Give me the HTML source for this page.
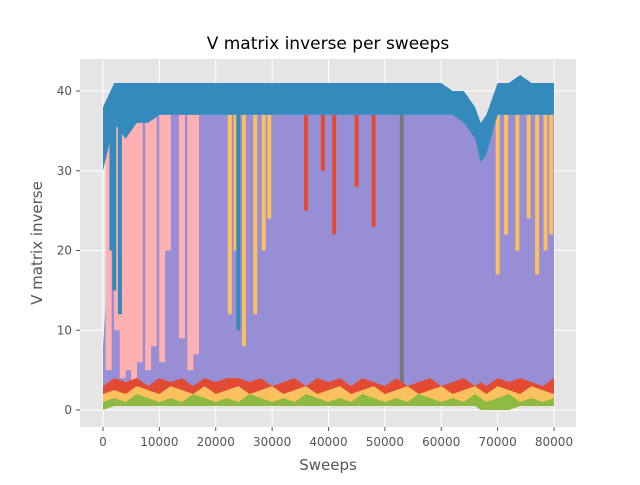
<!DOCTYPE html>
<html><head><meta charset="utf-8"><style>
body{margin:0;background:#fff;font-family:"Liberation Sans","DejaVu Sans",sans-serif;}
svg text{font-family:"DejaVu Sans","Liberation Sans",sans-serif;}
</style></head><body>
<svg id="chart" width="640" height="480">
<rect x="0" y="0" width="640" height="480" fill="#fff"/>
<rect x="80" y="59" width="496" height="368" fill="#e5e5e5"/>
<g id="grid"></g>
<g id="marks"></g>
<g id="ticks"></g>
<text x="328" y="49" font-size="17" text-anchor="middle" fill="#000">V matrix inverse per sweeps</text>
<text x="328" y="470" font-size="15" text-anchor="middle" fill="#555">Sweeps</text>
<text x="42" y="243" font-size="15" text-anchor="middle" fill="#555" transform="rotate(-90 42 243)">V matrix inverse</text>
</svg>
<script>
const xTicks=[0,10000,20000,30000,40000,50000,60000,70000,80000];
const yTicks=[0,10,20,30,40];
const sweeps=[0,2000,4000,6000,8000,10000,12000,14000,16000,18000,20000,22000,24000,26000,28000,30000,32000,34000,36000,38000,40000,42000,44000,46000,48000,50000,52000,54000,56000,58000,60000,62000,64000,66000,67000,68000,70000,72000,74000,76000,78000,80000];
const blueHigh=[38,41,41,41,41,41,41,41,41,41,41,41,41,41,41,41,41,41,41,41,41,41,41,41,41,41,41,41,41,41,41,40,40,38,36,37,41,41,42,41,41,41];
const blueLow=[30,36,34,36,36,37,37,37,37,37,37,37,37,37,37,37,37,37,37,37,37,37,37,37,37,37,37,37,37,37,37,37,36,34,31,32,37,37,37,37,37,37];
const purpleHigh=[8,30,34,36,36,37,37,37,37,37,37,37,37,37,37,37,37,37,37,37,37,37,37,37,37,37,37,37,37,37,37,37,36,34,31,32,37,37,37,37,37,37];
const purpleLow=[3,3,3,3,3,3,3,3,3,3,3,3,3,3,3,3,3,3,3,3,3,3,3,3,3,3,3,3,3,3,3,3,3,3,3,3,3,3,3,3,3,3];
const redHigh=[3,4,3.5,4,3,4,3.5,4,3,4,3.5,4,4,3.5,4,3,3.5,4,3,4,3.5,4,3,4,3.5,3,4,3,3.5,4,3,3.5,4,3,3.5,3,4,3.5,4,3.5,3,4];
const yellowHigh=[2,2.5,2,3,2.5,2,3,2.5,2,3,2,2.5,3,2,2.5,3,2,2.5,3,2,2.5,3,2,2.5,3,2,2.5,3,2,2.5,3,2,2.5,3,2.5,2,3,2.5,2,3,2.5,2];
const greenHigh=[1,1.5,1,2,1.5,1,1.5,1,2,1.5,1,1.5,1,2,1.5,1,1.5,1,2,1.5,1,1.5,1,2,1.5,1,1.5,1,2,1.5,1,1.5,1,2,1.5,1,1.5,2,1,1.5,1,1.5];
const greenLow=[0,0.5,0.5,0.5,0.5,0.5,0.5,0.5,0.5,0.5,0.5,0.5,0.5,0.5,0.5,0.5,0.5,0.5,0.5,0.5,0.5,0.5,0.5,0.5,0.5,0.5,0.5,0.5,0.5,0.5,0.5,0.5,0.5,0.5,0,0,0,0,0.5,0.5,0.5,0.5];
const spikeX=[1000,2500,3500,4500,5500,6500,8000,9000,10500,15500,16500,11500,14000,22500,23500,25000,27000,28500,29500,70000,71500,73500,75500,77000,78500,79500,41000,48000,36000,39000,45000,53000,24000,2000,3000,1500];
const spikeTop=[38,38,38,38,38,38,38,38,38,38,38,38,38,37,37,37,37,37,37,37,37,37,37,37,37,37,37,37,37,37,37,37,38,40,40,39];
const spikeBottom=[5,10,4,5,3,6,5,8,6,5,7,20,9,12,20,8,12,20,24,17,22,20,24,17,20,22,22,23,25,30,28,1,10,15,12,20];
const spikeColor=["#ffb0b0","#ffb0b0","#ffb0b0","#ffb0b0","#ffb0b0","#ffb0b0","#ffb0b0","#ffb0b0","#ffb0b0","#ffb0b0","#ffb0b0","#ffb0b0","#ffb0b0","#fbc15e","#fbc15e","#fbc15e","#fbc15e","#fbc15e","#fbc15e","#fbc15e","#fbc15e","#fbc15e","#fbc15e","#fbc15e","#fbc15e","#fbc15e","#e24a33","#e24a33","#e24a33","#e24a33","#e24a33","#777777","#348abd","#348abd","#348abd","#348abd"];
const NS="http://www.w3.org/2000/svg";
function sx(v){return 103+v*(554-103)/80000;}
function sy(v){return 410-v*(410-91)/40;}
const grid=document.getElementById('grid'),marks=document.getElementById('marks'),ticks=document.getElementById('ticks');
xTicks.forEach(t=>{
 const l=document.createElementNS(NS,'line');l.setAttribute('x1',sx(t));l.setAttribute('x2',sx(t));l.setAttribute('y1',59);l.setAttribute('y2',427);l.setAttribute('stroke','#fff');
 
 grid.appendChild(l);
 const tk=document.createElementNS(NS,'line');tk.setAttribute('x1',sx(t));tk.setAttribute('x2',sx(t));tk.setAttribute('y1',427);tk.setAttribute('y2',431);tk.setAttribute('stroke','#555');ticks.appendChild(tk);
 const tx=document.createElementNS(NS,'text');tx.setAttribute('x',sx(t));tx.setAttribute('y',446);tx.setAttribute('font-size','12');tx.setAttribute('fill','#555');tx.setAttribute('text-anchor','middle');tx.textContent=t;
 
 ticks.appendChild(tx);
});
yTicks.forEach(t=>{
 const l=document.createElementNS(NS,'line');l.setAttribute('x1',80);l.setAttribute('x2',576);l.setAttribute('y1',sy(t));l.setAttribute('y2',sy(t));l.setAttribute('stroke','#fff');
 
 grid.appendChild(l);
 const tk=document.createElementNS(NS,'line');tk.setAttribute('x1',76);tk.setAttribute('x2',80);tk.setAttribute('y1',sy(t));tk.setAttribute('y2',sy(t));tk.setAttribute('stroke','#555');ticks.appendChild(tk);
 const tx=document.createElementNS(NS,'text');tx.setAttribute('x',72);tx.setAttribute('y',sy(t)+4);tx.setAttribute('font-size','12');tx.setAttribute('fill','#555');tx.setAttribute('text-anchor','end');tx.textContent=t;
 
 ticks.appendChild(tx);
});
function band(hi,lo,color,name){
 let d='';
 sweeps.forEach((s,i)=>{d+=(i?'L':'M')+sx(s)+','+sy(hi[i]);});
 for(let i=sweeps.length-1;i>=0;i--){d+='L'+sx(sweeps[i])+','+sy(lo[i]);}
 const p=document.createElementNS(NS,'path');p.setAttribute('d',d+'Z');p.setAttribute('fill',color);
 
 marks.appendChild(p);
}
band(purpleHigh,purpleLow,'#988ed5','series-purple');
spikeX.forEach((x,i)=>{
 const r=document.createElementNS(NS,'rect');
 const w=spikeColor[i]=="#777777"?4:(spikeColor[i]=="#ffb0b0"?6:4);
 r.setAttribute('x',sx(x)-w/2);r.setAttribute('width',w);
 r.setAttribute('y',sy(spikeTop[i]));r.setAttribute('height',sy(spikeBottom[i])-sy(spikeTop[i]));
 r.setAttribute('fill',spikeColor[i]);
 
 marks.appendChild(r);
});
band(blueHigh,blueLow,'#348abd','series-blue');
band(redHigh,purpleLow.map(v=>v-1.5),'#e24a33','series-red');
band(yellowHigh,greenLow.map(v=>v+0.5),'#fbc15e','series-yellow');
band(greenHigh,greenLow,'#8eba42','series-green');
</script>
</body></html>
